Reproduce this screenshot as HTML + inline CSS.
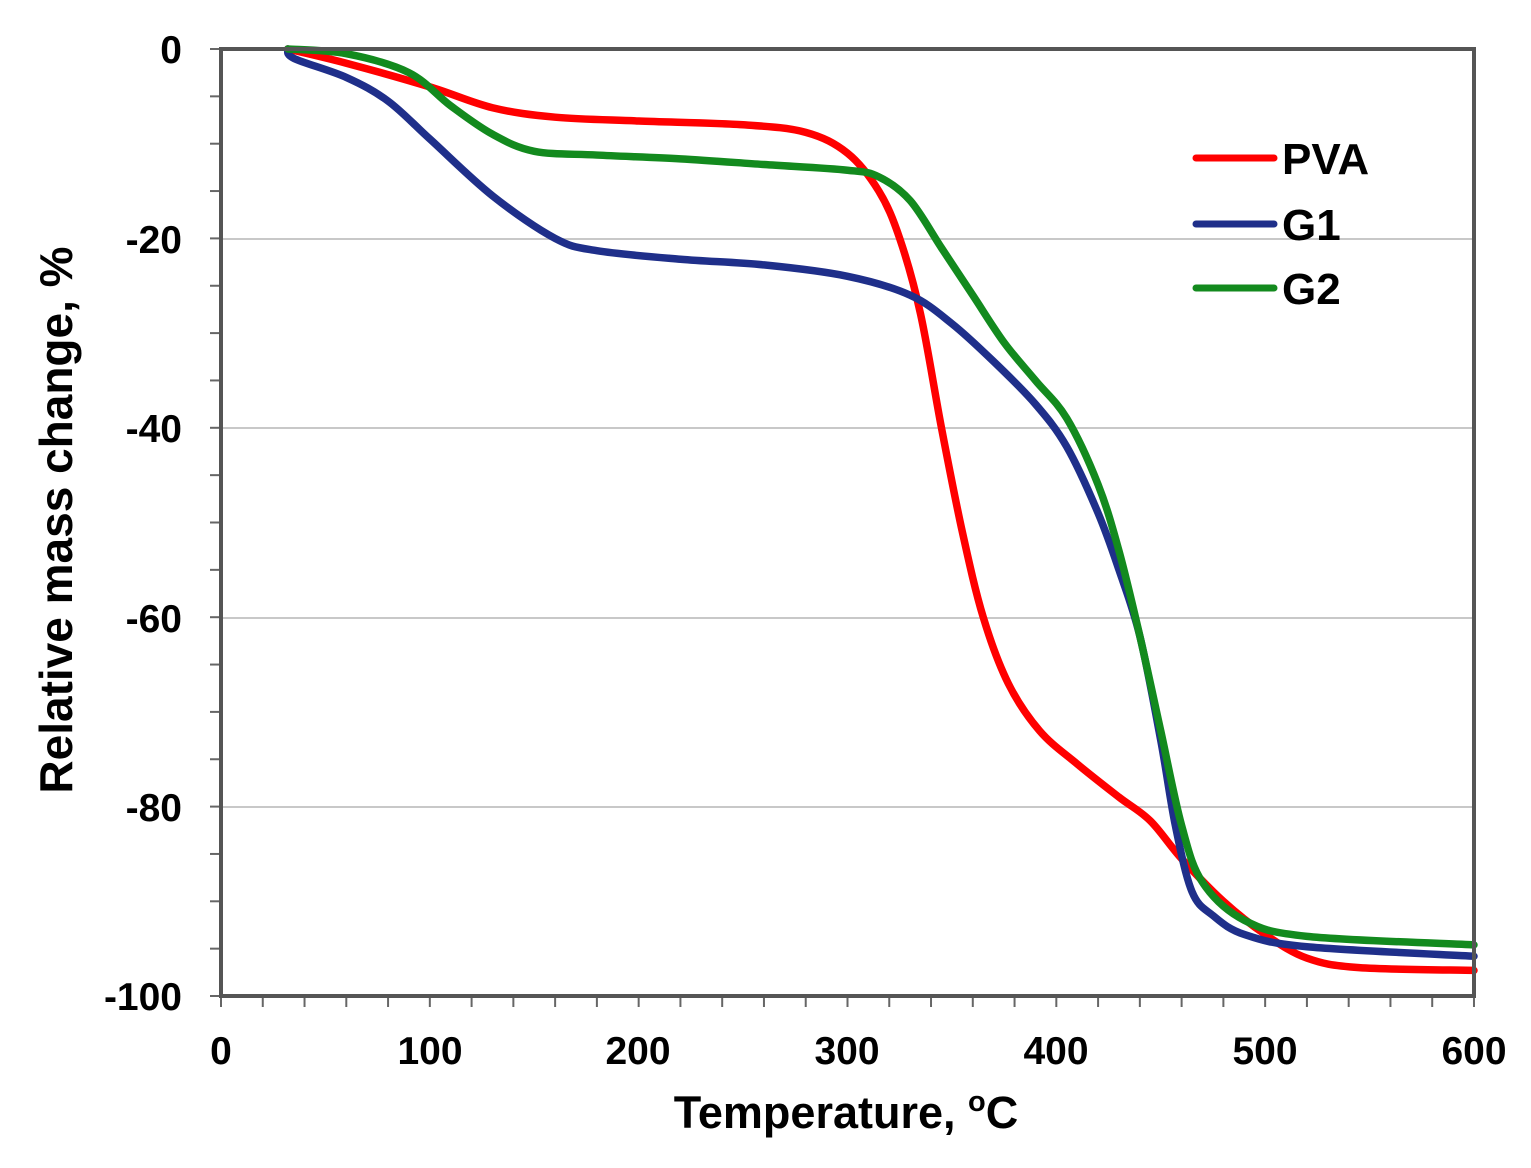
<!DOCTYPE html>
<html><head><meta charset="utf-8"><style>
html,body{margin:0;padding:0;background:#fff;}
svg{display:block;font-family:"Liberation Sans",Arial,sans-serif;font-weight:bold;}
</style></head><body>
<svg id="s" width="1531" height="1168" viewBox="0 0 1531 1168" xmlns="http://www.w3.org/2000/svg">
<g stroke="#c8c8c8" stroke-width="2">
<line x1="221" y1="239" x2="1474" y2="239"/>
<line x1="221" y1="428" x2="1474" y2="428"/>
<line x1="221" y1="618" x2="1474" y2="618"/>
<line x1="221" y1="807" x2="1474" y2="807"/>
</g>
<g id="ticks" stroke="#666" stroke-width="2"></g>
<g id="curves" fill="none" stroke-width="7.5" stroke-linecap="round" stroke-linejoin="round"></g>
<rect x="221" y="49" width="1253" height="947" fill="none" stroke="#555" stroke-width="4"/>
<g font-size="39" fill="#000" text-anchor="end">
<text x="182" y="63">0</text>
<text x="182" y="253">-20</text>
<text x="182" y="442">-40</text>
<text x="182" y="632">-60</text>
<text x="182" y="821">-80</text>
<text x="182" y="1010">-100</text>
</g>
<g font-size="39" fill="#000" text-anchor="middle">
<text x="221" y="1064">0</text>
<text x="430" y="1064">100</text>
<text x="638" y="1064">200</text>
<text x="847" y="1064">300</text>
<text x="1056" y="1064">400</text>
<text x="1265" y="1064">500</text>
<text x="1474" y="1064">600</text>
</g>
<text x="846" y="1128" font-size="45" text-anchor="middle">Temperature, <tspan font-size="29" dy="-17">o</tspan><tspan dy="17">C</tspan></text>
<text transform="translate(72,520) rotate(-90)" font-size="46" text-anchor="middle">Relative mass change, %</text>
<g stroke-width="7" stroke-linecap="round">
<line x1="1196" y1="158" x2="1274" y2="158" stroke="#ff0000"/>
<line x1="1196" y1="224" x2="1274" y2="224" stroke="#1f2f8a"/>
<line x1="1196" y1="288" x2="1274" y2="288" stroke="#138a1e"/>
</g>
<g font-size="44" fill="#000">
<text x="1282" y="174">PVA</text>
<text x="1282" y="240">G1</text>
<text x="1282" y="304">G2</text>
</g>
</svg>
<script>
var X=function(t){return 221+t*2.0883;},Y=function(v){return 49-v*9.47;};
var tk=document.getElementById('ticks'),h='';
for(var t=0;t<=600;t+=20){var x=X(t);h+='<line x1="'+x+'" y1="996" x2="'+x+'" y2="1007"/>';}
for(var v=0;v>=-100;v-=5){var y=Y(v);h+='<line x1="210" y1="'+y+'" x2="221" y2="'+y+'"/>';}
tk.innerHTML=h;
function path(p){var q=p.map(function(a){return [X(a[0]),Y(a[1])];});var d='M'+q[0][0]+','+q[0][1];
for(var i=0;i<q.length-1;i++){var p0=q[Math.max(i-1,0)],p1=q[i],p2=q[i+1],p3=q[Math.min(i+2,q.length-1)];
d+='C'+(p1[0]+(p2[0]-p0[0])/6)+','+(p1[1]+(p2[1]-p0[1])/6)+' '+(p2[0]-(p3[0]-p1[0])/6)+','+(p2[1]-(p3[1]-p1[1])/6)+' '+p2[0]+','+p2[1];}
return d;}
var pva=[[32,0],[60,-1.5],[100,-4],[130,-6.2],[160,-7.2],[200,-7.6],[250,-8],[280,-8.8],[300,-11],[315,-15],[325,-20],[335,-28],[345,-40],[355,-51],[365,-60],[377,-67],[392,-72],[410,-75.5],[430,-79],[445,-81.5],[460,-85.5],[480,-90],[500,-93.5],[520,-96],[545,-97],[600,-97.3]];
var g1=[[32,0],[35,-1],[60,-3],[80,-5.5],[100,-9.5],[130,-15.5],[160,-20],[180,-21.3],[220,-22.2],[260,-22.8],[300,-24],[330,-26],[350,-29],[370,-33],[390,-37.5],[405,-42],[420,-49],[430,-55],[440,-62],[450,-73],[457,-82],[465,-89],[475,-91.5],[490,-93.5],[520,-94.8],[600,-95.8]];
var g2=[[32,0],[60,-0.5],[90,-2.5],[110,-6],[130,-9],[150,-10.8],[180,-11.2],[220,-11.6],[260,-12.2],[300,-12.8],[315,-13.5],[330,-16],[345,-21],[360,-26],[375,-31],[390,-35],[405,-39],[420,-46],[430,-53],[440,-62],[450,-72],[460,-82],[470,-88],[490,-92],[520,-93.7],[600,-94.6]];
document.getElementById('curves').innerHTML=
'<path d="'+path(pva)+'" stroke="#ff0000"/>'+
'<path d="'+path(g1)+'" stroke="#1f2f8a"/>'+
'<path d="'+path(g2)+'" stroke="#138a1e"/>';
</script>
</body></html>
